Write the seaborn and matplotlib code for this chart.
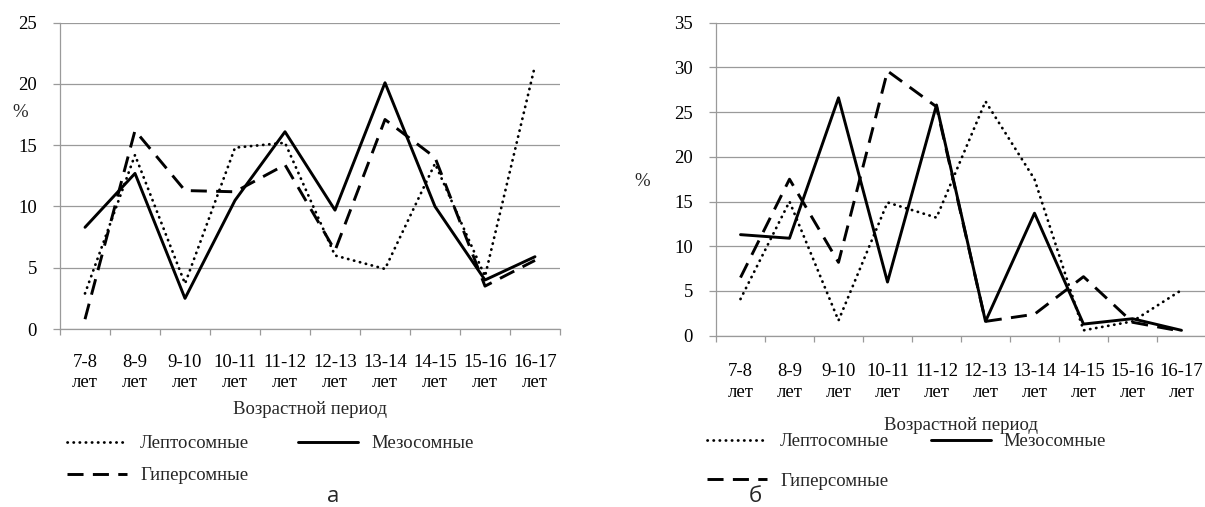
import matplotlib
matplotlib.use("Agg")
import matplotlib.pyplot as plt
import seaborn as sns
import pandas as pd

# Age periods (x categories)
periods = ["7-8\nлет", "8-9\nлет", "9-10\nлет", "10-11\nлет", "11-12\nлет",
           "12-13\nлет", "13-14\nлет", "14-15\nлет", "15-16\nлет", "16-17\nлет"]

# Panel "а": share of each somatotype by age period, %
lepto_a = [2.9, 14.2, 3.7, 14.8, 15.2, 6.0, 4.9, 13.5, 4.3, 21.5]
meso_a = [8.3, 12.7, 2.5, 10.5, 16.1, 9.7, 20.1, 10.0, 4.0, 5.9]
hyper_a = [0.8, 16.2, 11.3, 11.2, 13.4, 6.4, 17.1, 14.0, 3.5, 5.6]

# Panel "б"
lepto_b = [4.1, 15.0, 1.7, 14.9, 13.2, 26.2, 17.5, 0.6, 1.6, 5.1]
meso_b = [11.3, 10.9, 26.6, 6.0, 25.8, 1.6, 13.7, 1.3, 1.9, 0.6]
hyper_b = [6.5, 17.5, 8.2, 29.6, 25.6, 1.6, 2.4, 6.6, 1.5, 0.5]

series_names = ["Лептосомные", "Мезосомные", "Гиперсомные"]
x_title = "Возрастной период"
y_title = "%"
panel_letters = ["а", "б"]

sns.set_theme(style="white")
plt.rcParams["font.family"] = ["Liberation Serif", "DejaVu Serif"]

W, H = 1205, 507
fig = plt.figure(figsize=(W / 100, H / 100), dpi=100)

GRID = "#9a9a9a"
FS = 13.5

line_styles = {
    "Лептосомные": dict(lw=2.0, linestyle=(0, (0.1, 2.1)), dash_capstyle="round"),
    "Мезосомные": dict(lw=2.1, linestyle="-"),
    "Гиперсомные": dict(lw=2.1, linestyle=(0, (5.5, 3.2))),
}


def px_axes(x0, x1, ytop, ybot):
    return fig.add_axes([x0 / W, 1 - ybot / H, (x1 - x0) / W, (ybot - ytop) / H])


def draw_panel(ax, values, ymax, xtick_pad, xlabel_y, ylabel_xy):
    df = pd.DataFrame({"period": periods * 3,
                       "value": sum(values, []),
                       "group": sum([[n] * len(periods) for n in series_names], [])})
    for name in series_names:
        sub = df[df["group"] == name]
        sns.lineplot(data=sub, x="period", y="value", ax=ax, color="black",
                     sort=False, errorbar=None, legend=False, **line_styles[name])

    ax.set_xlim(-0.5, len(periods) - 0.5)
    ax.set_ylim(0, ymax)
    ax.set_yticks(range(0, ymax + 1, 5))
    ax.set_xticks(range(len(periods)))
    ax.set_xticklabels(periods, linespacing=1.25)
    ax.set_xticks([i - 0.5 for i in range(len(periods) + 1)], minor=True)

    ax.grid(axis="y", color=GRID, lw=0.9)
    ax.grid(axis="x", visible=False)
    for side in ("top", "right"):
        ax.spines[side].set_visible(False)
    for side in ("left", "bottom"):
        ax.spines[side].set_color(GRID)
        ax.spines[side].set_linewidth(0.9)

    ax.tick_params(axis="x", which="major", length=0, pad=xtick_pad, labelsize=FS, colors="black")
    ax.tick_params(axis="x", which="minor", bottom=True, length=4.5, width=0.9, color=GRID)
    ax.tick_params(axis="y", left=True, length=5, width=0.9, color=GRID,
                   pad=11.5, labelsize=FS, labelcolor="black")

    ax.set_xlabel(x_title, fontsize=FS)
    ax.xaxis.set_label_coords(0.5, xlabel_y)
    ax.xaxis.label.set_va("center")
    ax.set_ylabel(y_title, rotation=0, fontsize=FS)
    ax.yaxis.set_label_coords(*ylabel_xy)
    ax.yaxis.label.set_va("center")
    ax.yaxis.label.set_ha("center")
    ax.set_facecolor("white")


# Left panel
ax_a = px_axes(60, 560, 22.7, 329)
draw_panel(ax_a, [lepto_a, meso_a, hyper_a], 25, 18,
           -(410 - 329) / (329 - 22.7), ((20 - 60) / 500, (329 - 113) / (329 - 22.7)))

# Right panel
ax_b = px_axes(716, 1206, 22.7, 335.7)
draw_panel(ax_b, [lepto_b, meso_b, hyper_b], 35, 20,
           -(425 - 335.7) / (335.7 - 22.7), ((642 - 716) / 490, (335.7 - 182) / (335.7 - 22.7)))


def add_legend(ax, x_px, y_px, labelspacing, colspacing):
    lines = ax.get_lines()[:3]
    order = [0, 2, 1]
    fig.legend([lines[i] for i in order], [series_names[i] for i in order],
               loc="upper left", bbox_to_anchor=(x_px / W, 1 - y_px / H),
               bbox_transform=fig.transFigure, ncol=2, frameon=False,
               borderpad=0, borderaxespad=0, handlelength=3.2, handletextpad=0.7,
               columnspacing=colspacing, labelspacing=labelspacing, fontsize=FS)


add_legend(ax_a, 67, 435, 0.8, 2.6)
add_legend(ax_b, 707, 433, 1.2, 2.2)

fig.text(333 / W, 1 - 497 / H, panel_letters[0], family=["Open Sans", "DejaVu Sans"],
         fontsize=16, ha="center", va="center")
fig.text(755 / W, 1 - 496 / H, panel_letters[1], family=["Open Sans", "DejaVu Sans"],
         fontsize=16, ha="center", va="center")

fig.savefig("out.png", dpi=100, facecolor="white")
